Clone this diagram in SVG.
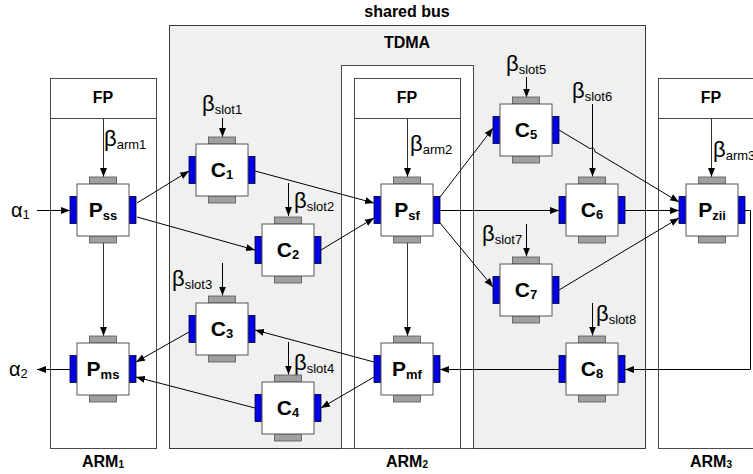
<svg xmlns="http://www.w3.org/2000/svg" xmlns:xlink="http://www.w3.org/1999/xlink" width="753" height="474" viewBox="0 0 753 474">
  <style>
    .frame { fill: #ffffff; stroke: #4a4a4a; stroke-width: 1; }
    .bus { fill: #f0f0f0; stroke: #3a3a3a; stroke-width: 1; }
    .hdr { stroke: #4a4a4a; stroke-width: 1; }
    .title { font-family: "Liberation Sans", Arial, sans-serif; font-weight: bold; font-size: 16px; fill: #000; }
    .lbl { font-family: "Liberation Sans", Arial, sans-serif; font-weight: bold; font-size: 21px; fill: #000; }
    .lbl .sub { font-size: 13px; }
    .greek { font-family: "Liberation Sans", Arial, sans-serif; font-size: 20px; fill: #000; }
    .greek .g { font-size: 22px; }
    .greek .sub { font-size: 13px; }
    .armsub { font-size: 10px; }
    .wire { fill: none; stroke: #000; stroke-width: 1; }
    .vwire { fill: none; stroke: #333; stroke-width: 1; }
    .body { fill: #ffffff; stroke: #555; stroke-width: 1; }
    .pblue { fill: #0000e6; stroke: #00002a; stroke-width: 0.8; }
    .pgray { fill: #a0a0a0; stroke: #555; stroke-width: 0.8; }
  </style>
  <defs>
    <marker id="ah" markerWidth="10" markerHeight="8" refX="9" refY="4" orient="auto" markerUnits="userSpaceOnUse">
      <path d="M0,0.5 L9,4 L0,7.5 z" fill="#000"/>
    </marker>
    <!-- component block: square body with four ports -->
    <g id="blk">
      <rect class="pgray" x="-13.5" y="-33" width="27" height="7"/>
      <rect class="pgray" x="-13.5" y="26" width="27" height="7"/>
      <rect class="pblue" x="-33" y="-13.5" width="7" height="27"/>
      <rect class="pblue" x="26" y="-13.5" width="7" height="27"/>
      <rect class="body" x="-26" y="-26" width="52" height="52"/>
    </g>
  </defs>

  <!-- shared bus area with the TDMA slots -->
  <g id="bus">
    <rect class="bus" x="169.5" y="25.5" width="476" height="423"/>
    <rect class="frame" x="341.5" y="65.5" width="132" height="383"/>
    <text class="title" x="407" y="17" text-anchor="middle">shared bus</text>
    <text class="title" x="407" y="48" text-anchor="middle">TDMA</text>
  </g>

  <!-- processing resources -->
  <g id="arm1">
    <rect class="frame" x="50.5" y="78.5" width="106" height="370"/>
    <line class="hdr" x1="50.5" y1="118.5" x2="156.5" y2="118.5"/>
    <text class="title" x="103" y="103" text-anchor="middle">FP</text>
    <text class="title" x="103" y="466.5" text-anchor="middle">ARM<tspan class="armsub" dy="1.5">1</tspan></text>
  </g>
  <g id="arm2">
    <rect class="frame" x="354.5" y="78.5" width="106" height="370"/>
    <line class="hdr" x1="354.5" y1="118.5" x2="460.5" y2="118.5"/>
    <text class="title" x="407" y="103" text-anchor="middle">FP</text>
    <text class="title" x="407" y="466.5" text-anchor="middle">ARM<tspan class="armsub" dy="1.5">2</tspan></text>
  </g>
  <g id="arm3">
    <rect class="frame" x="658.5" y="78.5" width="106" height="370"/>
    <line class="hdr" x1="658.5" y1="118.5" x2="764.5" y2="118.5"/>
    <text class="title" x="711" y="103" text-anchor="middle">FP</text>
    <text class="title" x="711" y="466.5" text-anchor="middle">ARM<tspan class="armsub" dy="1.5">3</tspan></text>
  </g>

  <!-- connectors -->
  <g id="connectors">
    <path class="vwire" d="M103.5,118.5 V177" marker-end="url(#ah)"/>
    <path class="vwire" d="M103.5,243 V336" marker-end="url(#ah)"/>
    <path class="vwire" d="M407.5,118.5 V177" marker-end="url(#ah)"/>
    <path class="vwire" d="M407.5,243 V336" marker-end="url(#ah)"/>
    <path class="vwire" d="M711.5,118.5 V177" marker-end="url(#ah)"/>

    <path class="wire" d="M37,210.5 H70" marker-end="url(#ah)"/>
    <path class="wire" d="M70,369.5 H37" marker-end="url(#ah)"/>
    <path class="wire" d="M137,203 L189,171" marker-end="url(#ah)"/>
    <path class="wire" d="M137,217 L255,250" marker-end="url(#ah)"/>
    <path class="wire" d="M255,171 L374,203" marker-end="url(#ah)"/>
    <path class="wire" d="M321,250 L374,218" marker-end="url(#ah)"/>
    <path class="wire" d="M440,197 L493,128" marker-end="url(#ah)"/>
    <path class="wire" d="M440,210.5 H559" marker-end="url(#ah)"/>
    <path class="wire" d="M440,223 L493,287" marker-end="url(#ah)"/>
    <path class="wire" d="M559,130 L590.2,148.7 A2.9,2.9 0 0 1 594.8,151.5 L679,202" marker-end="url(#ah)"/>
    <path class="wire" d="M625,210.5 H679" marker-end="url(#ah)"/>
    <path class="wire" d="M559,290 L679,218" marker-end="url(#ah)"/>
    <path class="wire" d="M745,210.5 H750.5 V369.5 H625" marker-end="url(#ah)"/>
    <path class="wire" d="M559,369.5 H440" marker-end="url(#ah)"/>
    <path class="wire" d="M374,362 L255,330" marker-end="url(#ah)"/>
    <path class="wire" d="M374,377 L321,408" marker-end="url(#ah)"/>
    <path class="wire" d="M189,332 L136,362" marker-end="url(#ah)"/>
    <path class="wire" d="M255,408 L136,377" marker-end="url(#ah)"/>

    <!-- service curves into the slot inputs -->
    <path class="wire" d="M222.5,118 V137" marker-end="url(#ah)"/>
    <path class="wire" d="M288.5,183 V216" marker-end="url(#ah)"/>
    <path class="wire" d="M222.5,263 V295.5" marker-end="url(#ah)"/>
    <path class="wire" d="M288.5,342 V374.5" marker-end="url(#ah)"/>
    <path class="wire" d="M526.5,77 V97.5" marker-end="url(#ah)"/>
    <path class="wire" d="M592.5,104 V176.5" marker-end="url(#ah)"/>
    <path class="wire" d="M526.5,224 V256.5" marker-end="url(#ah)"/>
    <path class="wire" d="M592.5,303 V335.5" marker-end="url(#ah)"/>
  </g>

  <!-- input / output streams and service labels -->
  <g id="labels">
    <text class="greek" x="11" y="216.5">α<tspan class="sub" dy="2">1</tspan></text>
    <text class="greek" x="9" y="376">α<tspan class="sub" dy="2">2</tspan></text>
    <text class="greek" x="104" y="146"><tspan class="g">β</tspan><tspan class="sub" dy="2.5">arm1</tspan></text>
    <text class="greek" x="410" y="151"><tspan class="g">β</tspan><tspan class="sub" dy="2.5">arm2</tspan></text>
    <text class="greek" x="713" y="157"><tspan class="g">β</tspan><tspan class="sub" dy="2.5">arm3</tspan></text>
    <text class="greek" x="202" y="111"><tspan class="g">β</tspan><tspan class="sub" dy="2.5">slot1</tspan></text>
    <text class="greek" x="294" y="208"><tspan class="g">β</tspan><tspan class="sub" dy="2.5">slot2</tspan></text>
    <text class="greek" x="172" y="286"><tspan class="g">β</tspan><tspan class="sub" dy="2.5">slot3</tspan></text>
    <text class="greek" x="294" y="370"><tspan class="g">β</tspan><tspan class="sub" dy="2.5">slot4</tspan></text>
    <text class="greek" x="506" y="71"><tspan class="g">β</tspan><tspan class="sub" dy="2.5">slot5</tspan></text>
    <text class="greek" x="572" y="98"><tspan class="g">β</tspan><tspan class="sub" dy="2.5">slot6</tspan></text>
    <text class="greek" x="482" y="241"><tspan class="g">β</tspan><tspan class="sub" dy="2.5">slot7</tspan></text>
    <text class="greek" x="596" y="321"><tspan class="g">β</tspan><tspan class="sub" dy="2.5">slot8</tspan></text>
  </g>

  <!-- components -->
  <g id="Pss" transform="translate(103,210)">
    <use xlink:href="#blk"/>
    <text class="lbl" x="0" y="7" text-anchor="middle">P<tspan class="sub" dy="3">ss</tspan></text>
  </g>
  <g id="Pms" transform="translate(103,369)">
    <use xlink:href="#blk"/>
    <text class="lbl" x="0" y="7" text-anchor="middle">P<tspan class="sub" dy="3">ms</tspan></text>
  </g>
  <g id="Psf" transform="translate(407,210)">
    <use xlink:href="#blk"/>
    <text class="lbl" x="0" y="7" text-anchor="middle">P<tspan class="sub" dy="3">sf</tspan></text>
  </g>
  <g id="Pmf" transform="translate(407,369)">
    <use xlink:href="#blk"/>
    <text class="lbl" x="0" y="7" text-anchor="middle">P<tspan class="sub" dy="3">mf</tspan></text>
  </g>
  <g id="Pzii" transform="translate(712,210)">
    <use xlink:href="#blk"/>
    <text class="lbl" x="0" y="7" text-anchor="middle">P<tspan class="sub" dy="3">zii</tspan></text>
  </g>
  <g id="C1" transform="translate(222,170)">
    <use xlink:href="#blk"/>
    <text class="lbl" x="0" y="7" text-anchor="middle">C<tspan class="sub" dy="2">1</tspan></text>
  </g>
  <g id="C2" transform="translate(288,250)">
    <use xlink:href="#blk"/>
    <text class="lbl" x="0" y="7" text-anchor="middle">C<tspan class="sub" dy="2">2</tspan></text>
  </g>
  <g id="C3" transform="translate(222,329)">
    <use xlink:href="#blk"/>
    <text class="lbl" x="0" y="7" text-anchor="middle">C<tspan class="sub" dy="2">3</tspan></text>
  </g>
  <g id="C4" transform="translate(288,408)">
    <use xlink:href="#blk"/>
    <text class="lbl" x="0" y="7" text-anchor="middle">C<tspan class="sub" dy="2">4</tspan></text>
  </g>
  <g id="C5" transform="translate(526,130)">
    <use xlink:href="#blk"/>
    <text class="lbl" x="0" y="7" text-anchor="middle">C<tspan class="sub" dy="2">5</tspan></text>
  </g>
  <g id="C6" transform="translate(592,210)">
    <use xlink:href="#blk"/>
    <text class="lbl" x="0" y="7" text-anchor="middle">C<tspan class="sub" dy="2">6</tspan></text>
  </g>
  <g id="C7" transform="translate(526,290)">
    <use xlink:href="#blk"/>
    <text class="lbl" x="0" y="7" text-anchor="middle">C<tspan class="sub" dy="2">7</tspan></text>
  </g>
  <g id="C8" transform="translate(592,369)">
    <use xlink:href="#blk"/>
    <text class="lbl" x="0" y="7" text-anchor="middle">C<tspan class="sub" dy="2">8</tspan></text>
  </g>
</svg>
